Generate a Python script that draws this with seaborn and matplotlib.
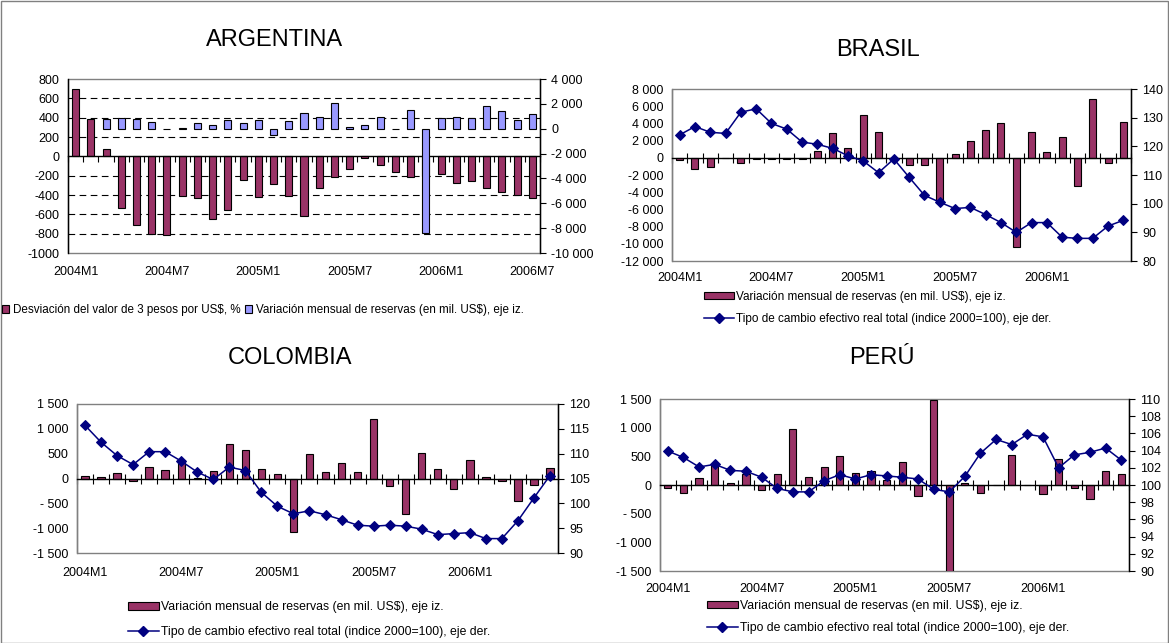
import numpy as np
import matplotlib
matplotlib.use("Agg")
import matplotlib.pyplot as plt
import seaborn as sns
from matplotlib.patches import Patch, Rectangle
from matplotlib.lines import Line2D

plt.rcParams["font.family"] = ["Liberation Sans", "DejaVu Sans"]

# ---------------------------------------------------------------- data
months = ["2004M1", "2004M2", "2004M3", "2004M4", "2004M5", "2004M6",
          "2004M7", "2004M8", "2004M9", "2004M10", "2004M11", "2004M12",
          "2005M1", "2005M2", "2005M3", "2005M4", "2005M5", "2005M6",
          "2005M7", "2005M8", "2005M9", "2005M10", "2005M11", "2005M12",
          "2006M1", "2006M2", "2006M3", "2006M4", "2006M5", "2006M6",
          "2006M7"]
shown_months = ["2004M1", "2004M7", "2005M1", "2005M7", "2006M1", "2006M7"]

# Argentina (31 months)
arg_desviacion = [700, 390, 80, -530, -710, -800, -810, -410, -430, -645,
                  -550, -240, -420, -285, -410, -620, -330, -210, -135, -20,
                  -85, -165, -215, -200, -185, -280, -250, -330, -365, -400,
                  -435]
arg_reservas = [np.nan, np.nan, 800, 850, 800, 510, -60, 90, 430, 320,
                700, 500, 700, -480, 620, 1250, 960, 2100, 100, 290,
                960, -60, 1520, -8430, 830, 960, 830, 1810, 1440, 690,
                1170]

# Brasil (30 months)
bra_reservas = [-300, -1340, -1100, 0, -640, -140, -140, -140, -140, 790,
                2840, 1170, 5010, 2990, 0, -840, -840, -5300, 440, 1950,
                3230, 4050, -10430, 3040, 640, 2380, -3280, 6800, -640, 4200]
bra_tcr = [124.0, 126.9, 124.9, 124.5, 131.9, 133.1, 128.0, 126.0, 121.5,
           120.7, 119.3, 116.7, 114.9, 110.8, 115.6, 109.2, 102.9, 100.5,
           98.3, 98.7, 96.2, 93.4, 90.0, 93.4, 93.4, 88.3, 87.9, 87.9,
           92.2, 94.2]

# Colombia (30 months)
col_reservas = [60, 40, 115, -55, 230, 180, 375, 20, 160, 685,
                565, 200, 90, -1070, 490, 135, 320, 135, 1205, -160,
                -705, 520, 200, -220, 370, 35, -50, -445, -130, 220]
col_tcr = [115.7, 112.3, 109.6, 107.8, 110.4, 110.4, 108.5, 106.3, 104.8,
           107.3, 106.6, 102.2, 99.4, 97.9, 98.5, 97.7, 96.7, 95.6, 95.4,
           95.6, 95.4, 94.8, 93.7, 93.9, 94.1, 92.9, 92.9, 96.5, 101.1,
           105.6]

# Perú (30 months)
per_reservas = [-58, -134, 116, 350, 29, 200, -87, 192, 983, 134,
                320, 506, 203, 244, 80, 407, -192, 1480, -1750, 29,
                -134, 0, 523, 0, -157, 448, -58, -238, 244, 192]
per_tcr = [103.95, 103.2, 102.1, 102.4, 101.7, 101.6, 100.9, 99.6, 99.2,
           99.2, 100.5, 101.2, 100.7, 101.2, 101.05, 100.9, 100.7, 99.5,
           99.2, 101.0, 103.7, 105.3, 104.7, 105.9, 105.6, 102.0, 103.5,
           103.8, 104.3, 102.9]

# axis ticks and their labels
arg_left_ticks = [-1000, -800, -600, -400, -200, 0, 200, 400, 600, 800]
arg_left_labels = ["-1000", "-800", "-600", "-400", "-200", "0", "200",
                   "400", "600", "800"]
arg_grid = [-800, -600, -400, -200, 200, 400, 600]
arg_right_ticks = [-10000, -8000, -6000, -4000, -2000, 0, 2000, 4000]
arg_right_labels = ["-10 000", "-8 000", "-6 000", "-4 000", "-2 000", "0",
                    "2 000", "4 000"]
bra_left_ticks = [-12000, -10000, -8000, -6000, -4000, -2000, 0, 2000,
                  4000, 6000, 8000]
bra_left_labels = ["-12 000", "-10 000", "-8 000", "-6 000", "-4 000",
                   "-2 000", "0", "2 000", "4 000", "6 000", "8 000"]
bra_right_ticks = [80, 90, 100, 110, 120, 130, 140]
res_ticks = [-1500, -1000, -500, 0, 500, 1000, 1500]
res_labels = ["-1 500", "-1 000", "- 500", "0", "500", "1 000", "1 500"]
col_right_ticks = [90, 95, 100, 105, 110, 115, 120]
per_right_ticks = [90, 92, 94, 96, 98, 100, 102, 104, 106, 108, 110]

lbl_desv = "Desviación del valor de 3 pesos por US$, %"
lbl_res = "Variación mensual de reservas (en mil. US$), eje iz."
lbl_tcr = "Tipo de cambio efectivo real total (indice 2000=100), eje der."

# ---------------------------------------------------------------- style
MAROON = "#993366"
LILAC = "#9999FF"
NAVY = "#000080"
BORDER = "#808080"
FS = 9

W, H = 1169, 643
fig = plt.figure(figsize=(W / 100, H / 100), dpi=100)
fig.patch.set_facecolor("white")


def make_axes(l, t, r, b):
    return fig.add_axes([l / W, 1 - b / H, (r - l) / W, (b - t) / H])


def bars(ax, values, color):
    sns.barplot(x=np.arange(len(values)), y=values, native_scale=True,
                width=0.46, color=color, saturation=1, edgecolor="black",
                linewidth=0.8, errorbar=None, ax=ax)


def line(ax, values):
    sns.lineplot(x=np.arange(len(values)), y=values, ax=ax, color=NAVY,
                 linewidth=1.1, marker="D", markersize=5.5,
                 markeredgecolor=NAVY)


def dress(ax, ax2, n, left_color, tick_dir, tick_len, label_pad):
    ax.set_xlim(-0.5, n - 0.5)
    ax2.set_xlim(-0.5, n - 0.5)
    for side in ("top", "right"):
        ax.spines[side].set_visible(False)
    ax.spines["left"].set_color(left_color)
    ax.spines["left"].set_linewidth(1)
    ax.spines["bottom"].set_position(("data", 0))
    ax.spines["bottom"].set_color("black")
    ax.spines["bottom"].set_linewidth(1)
    ax.add_patch(Rectangle((0, 0), 1, 1, transform=ax.transAxes, fill=False,
                           edgecolor=BORDER, lw=1, clip_on=False, zorder=0.4))
    ax.set_xticks(np.arange(-0.5, n, 1.0))
    ax.set_xticklabels([])
    ax.tick_params(axis="x", direction=tick_dir, length=tick_len, width=0.8,
                   color="black", bottom=True)
    ax.tick_params(axis="y", length=0, pad=6, labelsize=FS)
    for side in ("top", "left", "bottom"):
        ax2.spines[side].set_visible(False)
    ax2.spines["right"].set_color("black")
    ax2.spines["right"].set_linewidth(1)
    ax2.tick_params(axis="y", direction="out", length=4, width=0.8, pad=4,
                    labelsize=FS, right=True, color="black")
    sec = ax.secondary_xaxis("bottom")
    pos = [months.index(m) for m in shown_months if months.index(m) < n]
    sec.set_xticks(pos, labels=[months[p] for p in pos])
    sec.tick_params(length=0, pad=label_pad, labelsize=FS)
    for s in sec.spines.values():
        s.set_visible(False)
    for a in (ax, ax2):
        a.set_xlabel("")
        a.set_ylabel("")
        a.set_facecolor("none")


# ---------------------------------------------------------------- Argentina
ax = make_axes(68, 79, 540, 253)
ax2 = ax.twinx()
for g in arg_grid:
    ax.axhline(g, color="black", lw=0.8, ls=(0, (6, 4)), zorder=0.5)
bars(ax, arg_desviacion, MAROON)
bars(ax2, arg_reservas, LILAC)
ax.set_ylim(-1000, 800)
ax.set_yticks(arg_left_ticks, labels=arg_left_labels)
ax2.set_ylim(-10000, 4000)
ax2.set_yticks(arg_right_ticks, labels=arg_right_labels)
dress(ax, ax2, 31, "black", "out", 4, 9)
fig.text(275 / W, 1 - 40 / H, "ARGENTINA", ha="center", va="center",
         fontsize=17)
fig.legend(handles=[Patch(facecolor=MAROON, edgecolor="black", lw=0.8,
                          label=lbl_desv),
                    Patch(facecolor=LILAC, edgecolor="black", lw=0.8,
                          label=lbl_res)],
           loc="center left", bbox_to_anchor=(2 / W, 1 - 310 / H), ncol=2,
           frameon=False, fontsize=8.4, handlelength=0.6, handleheight=0.6,
           handletextpad=0.35, columnspacing=0.35, borderpad=0,
           borderaxespad=0)

# ---------------------------------------------------------------- Brasil
ax = make_axes(672, 89, 1131, 261)
ax2 = ax.twinx()
bars(ax, bra_reservas, MAROON)
line(ax2, bra_tcr)
ax.set_ylim(-12000, 8000)
ax.set_yticks(bra_left_ticks, labels=bra_left_labels)
ax2.set_ylim(80, 140)
ax2.set_yticks(bra_right_ticks)
dress(ax, ax2, 30, BORDER, "inout", 7, 8)
fig.text(878 / W, 1 - 50 / H, "BRASIL", ha="center", va="center",
         fontsize=17)


def two_row_legend(x, y, spacing, size):
    fig.legend(handles=[Patch(facecolor=MAROON, edgecolor="black", lw=0.8,
                              label=lbl_res),
                        Line2D([], [], color=NAVY, lw=1.1, marker="D",
                               markersize=5, label=lbl_tcr)],
               loc="center left", bbox_to_anchor=(x / W, 1 - y / H),
               ncol=1, frameon=False, fontsize=size, handlelength=2.5,
               handleheight=0.55, handletextpad=0.2, labelspacing=spacing,
               borderpad=0, borderaxespad=0)


two_row_legend(704, 308, 0.9, 8.5)

# ---------------------------------------------------------------- Colombia
ax = make_axes(77, 404, 558, 553)
ax2 = ax.twinx()
bars(ax, col_reservas, MAROON)
line(ax2, col_tcr)
ax.set_ylim(-1500, 1500)
ax.set_yticks(res_ticks, labels=res_labels)
ax2.set_ylim(90, 120)
ax2.set_yticks(col_right_ticks)
dress(ax, ax2, 30, BORDER, "inout", 7, 10)
fig.text(290 / W, 1 - 358 / H, "COLOMBIA", ha="center", va="center",
         fontsize=17)
two_row_legend(128, 619.5, 1.0, 8.8)

# ---------------------------------------------------------------- Perú
ax = make_axes(660, 399, 1129, 571)
ax2 = ax.twinx()
bars(ax, per_reservas, MAROON)
line(ax2, per_tcr)
ax.set_ylim(-1500, 1500)
ax.set_yticks(res_ticks, labels=res_labels)
ax2.set_ylim(90, 110)
ax2.set_yticks(per_right_ticks)
dress(ax, ax2, 30, BORDER, "inout", 7, 9)
fig.text(882 / W, 1 - 358 / H, "PERÚ", ha="center", va="center",
         fontsize=17)
two_row_legend(707, 617, 0.8, 8.8)

# outer frame
fig.add_artist(Rectangle((0.5 / W, 0.5 / H), 1 - 1.5 / W, 1 - 1.5 / H,
                         transform=fig.transFigure, fill=False,
                         edgecolor=BORDER, lw=1))

fig.savefig("out.png", dpi=100)
